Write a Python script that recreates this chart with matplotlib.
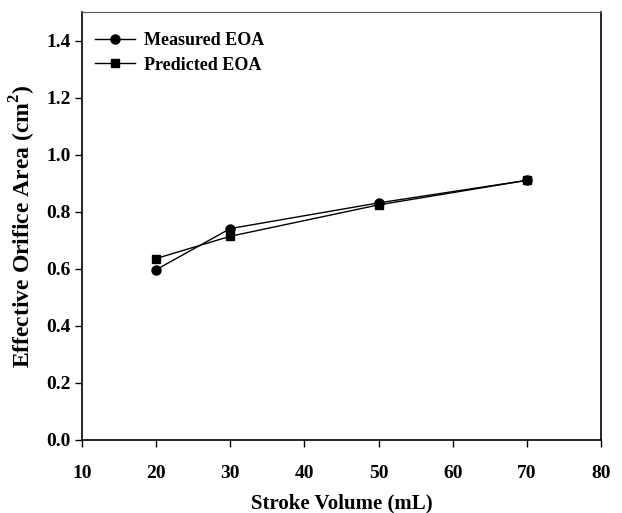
import matplotlib
matplotlib.use('Agg')
from matplotlib import pyplot as plt

# data
stroke_volume = [20, 30, 50, 70]
measured_eoa = [0.597, 0.741, 0.831, 0.910]
predicted_eoa = [0.636, 0.714, 0.824, 0.910]

x_ticks = [10, 20, 30, 40, 50, 60, 70, 80]
y_ticks = [0.0, 0.2, 0.4, 0.6, 0.8, 1.0, 1.2, 1.4]

plt.rcParams['font.family'] = ['Liberation Serif', 'DejaVu Serif']
plt.rcParams['font.weight'] = 'bold'
plt.rcParams['mathtext.fontset'] = 'custom'
plt.rcParams['mathtext.rm'] = 'Liberation Serif:bold'

fig = plt.figure(figsize=(6.22, 5.13), dpi=100)
ax = fig.add_axes([82 / 622, 1 - 440 / 513, (601 - 82) / 622, (440 - 12) / 513])

ax.plot(stroke_volume, measured_eoa, color='black', lw=1, marker='o', markersize=6.5,
        label='Measured EOA')
ax.plot(stroke_volume, predicted_eoa, color='black', lw=1, marker='s', markersize=6,
        label='Predicted EOA')

ax.set_xlim(10, 80)
ax.set_ylim(0, 1.5)
ax.set_xticks(x_ticks)
ax.set_yticks(y_ticks)
ax.set_xticklabels([str(v) for v in x_ticks], fontsize=14, fontweight='bold')
ax.set_yticklabels([f'{v:.1f}' for v in y_ticks], fontsize=14, fontweight='bold')
ax.tick_params(direction='out', length=5, width=1, top=False, right=False)
ax.tick_params(axis='x', pad=13)
ax.tick_params(axis='y', pad=3)

for side in ['left', 'bottom', 'right']:
    ax.spines[side].set_linewidth(1.2)
ax.spines['top'].set_color('#555555')

ax.set_xlabel('Stroke Volume (mL)', fontsize=15, fontweight='bold', labelpad=8)
ax.set_ylabel(r'Effective Orifice Area (cm$^2$)', fontsize=17, fontweight='bold', labelpad=6)

# legend sits tight in the top-left corner, no frame
leg = ax.legend(loc='upper left', bbox_to_anchor=(0.011, 0.969), frameon=False,
                prop={'size': 13, 'weight': 'bold'}, handlelength=2.2,
                handletextpad=0.5, borderaxespad=0, labelspacing=0.4)

fig.savefig('out.png', dpi=100)
